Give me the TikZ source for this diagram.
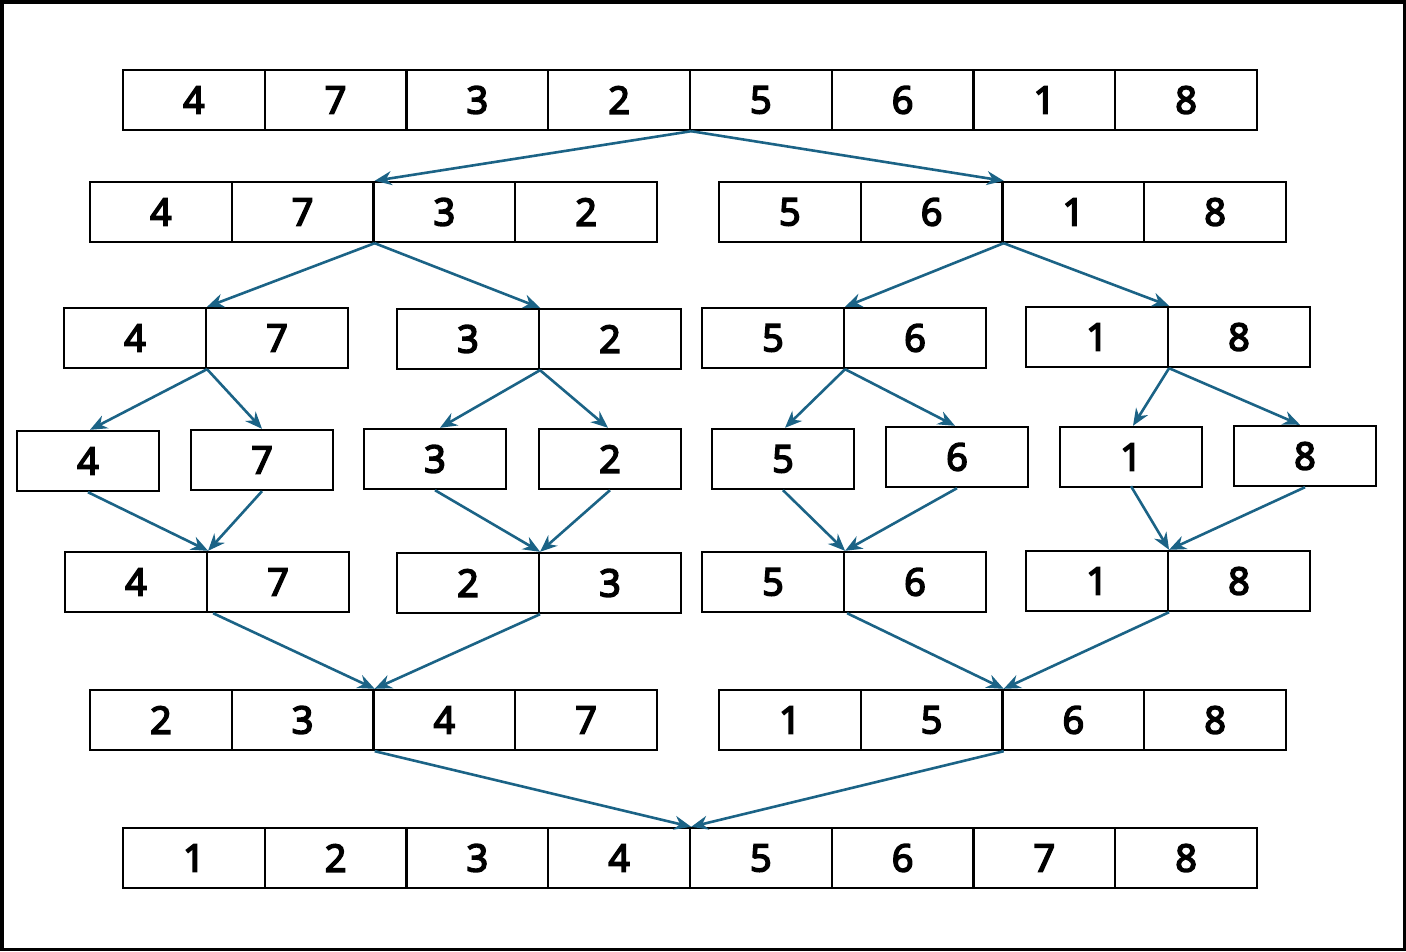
\documentclass[tikz,border=0pt]{standalone}
\usepackage{fontspec}
\setmainfont{Noto Sans}
\newfontfamily\digfont{Noto Sans}[FakeBold=4]
\usetikzlibrary{arrows.meta}
\definecolor{arrowc}{RGB}{27,99,134}
\begin{document}
\begin{tikzpicture}[x=1pt,y=-1pt,
  cell/.style={draw, line width=2.4pt, minimum width=141.75pt, minimum height=60pt, inner sep=0pt,
    font=\digfont\fontsize{38}{38}\selectfont},
  arr/.style={draw=arrowc, line width=2.6pt, -{Stealth[length=17pt,width=14pt]}}]
\useasboundingbox (0,0) rectangle (1406,951);
\draw[line width=3.5pt] (1.75,1.75) rectangle (1404.25,949.25);
% row 1
\foreach \v [count=\i] in {4,7,3,2,5,6,1,8}
  \node[cell] (a\i) at ({123+141.75*(\i-0.5)},100) {\v};
% row 2
\foreach \v [count=\i] in {4,7,3,2}
  \node[cell] (b\i) at ({90+141.75*(\i-0.5)},212) {\v};
\foreach \v [count=\i] in {5,6,1,8}
  \node[cell] (c\i) at ({719+141.75*(\i-0.5)},212) {\v};
% row 3
\foreach \v [count=\i] in {4,7}
  \node[cell] (d\i) at ({64+142*(\i-0.5)},338) {\v};
\foreach \v [count=\i] in {3,2}
  \node[cell] (e\i) at ({397+142*(\i-0.5)},339) {\v};
\foreach \v [count=\i] in {5,6}
  \node[cell] (f\i) at ({702+142*(\i-0.5)},338) {\v};
\foreach \v [count=\i] in {1,8}
  \node[cell] (g\i) at ({1026+142*(\i-0.5)},337) {\v};
% row 4
\node[cell] (s1) at (88,461) {4};
\node[cell] (s2) at (262,460) {7};
\node[cell] (s3) at (435,459) {3};
\node[cell] (s4) at (610,459) {2};
\node[cell] (s5) at (783,459) {5};
\node[cell] (s6) at (957,457) {6};
\node[cell] (s7) at (1131,457) {1};
\node[cell] (s8) at (1305,456) {8};
% row 5
\foreach \v [count=\i] in {4,7}
  \node[cell] (h\i) at ({65+142*(\i-0.5)},582) {\v};
\foreach \v [count=\i] in {2,3}
  \node[cell] (k\i) at ({397+142*(\i-0.5)},583) {\v};
\foreach \v [count=\i] in {5,6}
  \node[cell] (m\i) at ({702+142*(\i-0.5)},582) {\v};
\foreach \v [count=\i] in {1,8}
  \node[cell] (n\i) at ({1026+142*(\i-0.5)},581) {\v};
% row 6
\foreach \v [count=\i] in {2,3,4,7}
  \node[cell] (p\i) at ({90+141.75*(\i-0.5)},720) {\v};
\foreach \v [count=\i] in {1,5,6,8}
  \node[cell] (q\i) at ({719+141.75*(\i-0.5)},720) {\v};
% row 7
\foreach \v [count=\i] in {1,2,3,4,5,6,7,8}
  \node[cell] (r\i) at ({123+141.75*(\i-0.5)},858) {\v};
% arrows row1 -> row2
\draw[arr] (a4.south east) -- (b2.north east);
\draw[arr] (a4.south east) -- (c2.north east);
% row2 -> row3
\draw[arr] (b2.south east) -- (d1.north east);
\draw[arr] (b2.south east) -- (e1.north east);
\draw[arr] (c2.south east) -- (f1.north east);
\draw[arr] (c2.south east) -- (g1.north east);
% row3 -> row4
\draw[arr] (d1.south east) -- ([xshift=2pt]s1.north);
\draw[arr] (d1.south east) -- (s2.north);
\draw[arr] (e1.south east) -- ([xshift=5pt]s3.north);
\draw[arr] (e1.south east) -- ([xshift=-2pt]s4.north);
\draw[arr] (f1.south east) -- ([xshift=2pt]s5.north);
\draw[arr] (f1.south east) -- ([xshift=-2pt]s6.north);
\draw[arr] (g1.south east) -- ([xshift=2pt]s7.north);
\draw[arr] (g1.south east) -- ([xshift=-5pt]s8.north);
% row4 -> row5
\draw[arr] (s1.south) -- (h1.north east);
\draw[arr] (s2.south) -- (h1.north east);
\draw[arr] (s3.south) -- (k1.north east);
\draw[arr] (s4.south) -- (k1.north east);
\draw[arr] (s5.south) -- (m1.north east);
\draw[arr] (s6.south) -- (m1.north east);
\draw[arr] ([yshift=2pt]s7.south) -- (n1.north east);
\draw[arr] (s8.south) -- (n1.north east);
% row5 -> row6
\draw[arr] ([xshift=5pt]h1.south east) -- (p2.north east);
\draw[arr] (k1.south east) -- (p2.north east);
\draw[arr] ([xshift=2pt]m1.south east) -- (q2.north east);
\draw[arr] (n1.south east) -- (q2.north east);
% row6 -> row7
\draw[arr] (p2.south east) -- (r4.north east);
\draw[arr] (q2.south east) -- (r4.north east);
\end{tikzpicture}
\end{document}
